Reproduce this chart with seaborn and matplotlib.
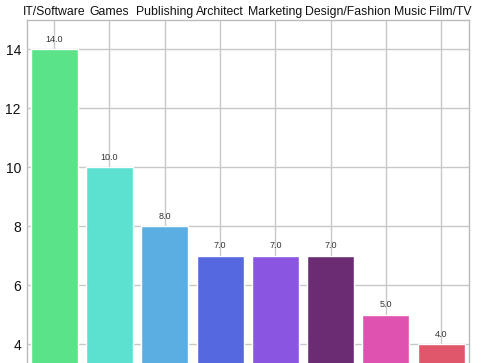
import matplotlib
matplotlib.use("Agg")
import matplotlib.pyplot as plt
import matplotlib.transforms as mtransforms
import seaborn as sns
import pandas as pd

# data
categories = ["IT/Software", "Games", "Publishing", "Architect", "Marketing",
              "Design/Fashion", "Music", "Film/TV"]
counts = [14.0, 10.0, 8.0, 7.0, 7.0, 7.0, 5.0, 4.0]
colors = ["#5be38a", "#5ce1d0", "#5aaee2", "#5668e0", "#8a55e0",
          "#6b2c74", "#e052b0", "#e0566a"]
yticks = [4, 6, 8, 10, 12, 14]

df = pd.DataFrame({"category": categories, "count": counts})

sns.set_theme(style="whitegrid")
plt.rcParams["font.family"] = ["Liberation Sans", "DejaVu Sans"]

fig = plt.figure(figsize=(4.84, 3.63), dpi=100)
# the reference is a crop: the axes run past the bottom of the picture
ax = fig.add_axes([0.0548, -0.274, 0.914, 1.219])

sns.barplot(data=df, x="category", y="count", hue="category",
            palette=colors, legend=False, width=0.85, saturation=1,
            ax=ax, zorder=2)

for c in ax.containers:
    ax.bar_label(c, fmt="%.1f", padding=4, fontsize=6.5, color="#333333")

ax.set_ylim(0, 15)
ax.set_xlim(-0.5, len(categories) - 0.5)
ax.set_yticks(yticks)
ax.set_xticks(range(len(categories)))
ax.set_xticklabels([])
ax.tick_params(axis="x", length=0)
ax.tick_params(axis="y", length=0, pad=4, labelsize=10, labelcolor="#111111")
ax.set_xlabel("")
ax.set_ylabel("")
ax.grid(True, color="#c8c8c8", linewidth=1)
for s in ax.spines.values():
    s.set_color("#bbbbbb")
    s.set_linewidth(1)

# category names above the plot, pushed right where they would collide
trans = mtransforms.blended_transform_factory(ax.transData, ax.transAxes)
up = mtransforms.ScaledTranslation(0, 5 / fig.dpi, fig.dpi_scale_trans)
labels = []
for i, name in enumerate(categories):
    t = ax.text(i, 1, name, transform=trans + up, ha="center", va="baseline",
                fontsize=8.8, color="#111111")
    labels.append(t)

fig.canvas.draw()
r = fig.canvas.get_renderer()
prev_right = None
gap = 3
for t in labels:
    bb = t.get_window_extent(r)
    dx = 0
    if prev_right is not None and bb.x0 < prev_right + gap:
        dx = prev_right + gap - bb.x0
        t.set_transform(trans + up +
                        mtransforms.ScaledTranslation(dx / fig.dpi, 0, fig.dpi_scale_trans))
    prev_right = bb.x1 + dx

fig.savefig("out.png", dpi=100)
